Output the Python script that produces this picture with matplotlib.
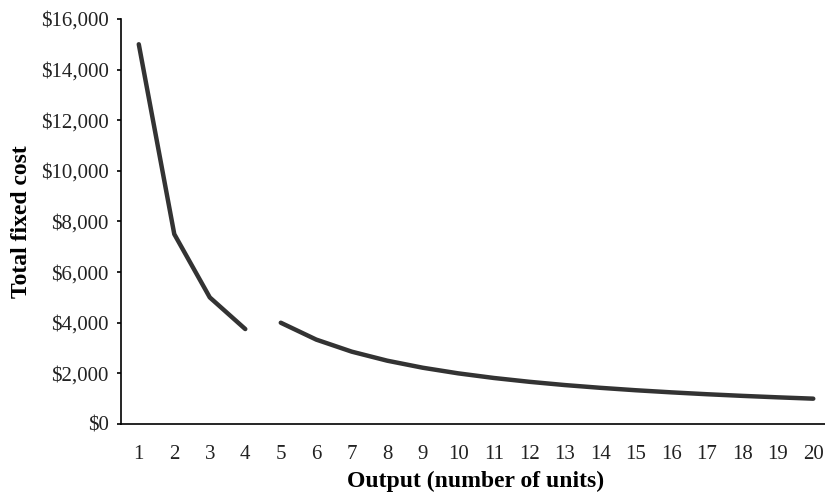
import matplotlib.pyplot as plt

plt.rcParams['font.family'] = ['Liberation Serif', 'DejaVu Serif']

# first segment (1-4 units) and second segment (5-20 units)
units_a = [1, 2, 3, 4]
cost_a = [15000, 7500, 5000, 3750]
units_b = list(range(5, 21))
cost_b = [4000, 3333, 2857, 2500, 2222, 2000, 1818, 1667, 1538, 1429,
          1333, 1250, 1176, 1111, 1053, 1000]
y_ticks = [0, 2000, 4000, 6000, 8000, 10000, 12000, 14000, 16000]

fig = plt.figure(figsize=(8.25, 4.97), dpi=100)
ax = fig.add_axes([0.1467, 0.1469, 0.8606, 0.815])

line_color = '#333333'
ax.plot(units_a, cost_a, color=line_color, linewidth=3.2, solid_capstyle='round')
ax.plot(units_b, cost_b, color=line_color, linewidth=3.2, solid_capstyle='round')

ax.set_xlim(0.5, 20.5)
ax.set_ylim(0, 16000)
ax.set_xticks(range(1, 21))
ax.set_yticks(y_ticks)
ax.set_yticklabels([f"${v:,}" for v in y_ticks])

ax.spines['top'].set_visible(False)
ax.spines['right'].set_visible(False)
ax.spines['left'].set_linewidth(1.2)
ax.spines['bottom'].set_linewidth(1.2)
ax.tick_params(axis='x', length=0, pad=15, labelsize=15, labelcolor='#222222')
ax.tick_params(axis='y', length=3, width=1.2, pad=6, labelsize=15, labelcolor='#222222')

ax.set_xlabel('Output (number of units)', fontsize=17, fontweight='bold', labelpad=5)
ax.set_ylabel('Total fixed cost', fontsize=17, fontweight='bold', labelpad=6)

fig.savefig('out.png', dpi=100)
